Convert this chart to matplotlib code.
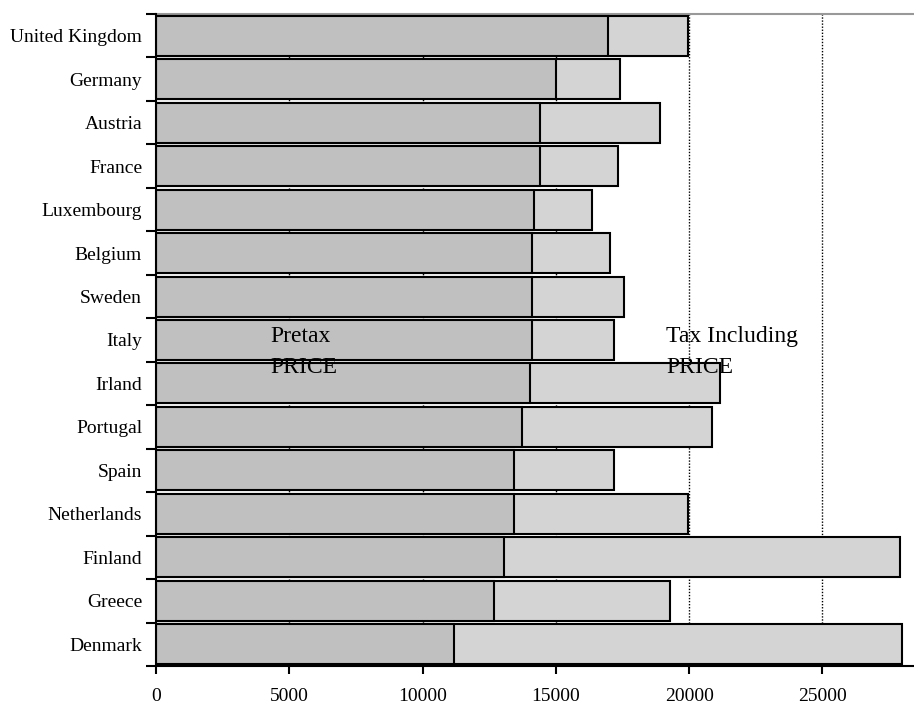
import matplotlib
matplotlib.use("Agg")
import matplotlib.pyplot as plt
import numpy as np

countries = ["United Kingdom", "Germany", "Austria", "France", "Luxembourg",
             "Belgium", "Sweden", "Italy", "Irland", "Portugal", "Spain",
             "Netherlands", "Finland", "Greece", "Denmark"]
pretax = [16950, 15010, 14410, 14410, 14175, 14115, 14115, 14115, 14040,
          13725, 13440, 13440, 13050, 12675, 11185]
tax_incl = [19950, 17410, 18910, 17340, 16350, 17040, 17570, 17190, 21150,
            20860, 17190, 19965, 27925, 19290, 27990]
xticks = [0, 5000, 10000, 15000, 20000, 25000]

plt.rcParams['font.family'] = ['Liberation Serif', 'DejaVu Serif']

fig = plt.figure(figsize=(9.14, 7.06), dpi=100)
ax = fig.add_axes([156/914, 1-666/706, (913-156)/914, (666-14)/706])

y = np.arange(len(countries))
h = 0.92
ax.barh(y, tax_incl, height=h, color="#d4d4d4", edgecolor="black", linewidth=1.5, zorder=3)
ax.barh(y, pretax, height=h, color="#c0c0c0", edgecolor="black", linewidth=1.5, zorder=4)

for xv in xticks[1:]:
    ax.axvline(xv, color="black", linestyle=(0, (1, 1.2)), linewidth=1.0, zorder=1)

ax.set_ylim(len(countries) - 0.5, -0.5)
ax.set_xlim(0, 28400)

ax.set_yticks(y)
ax.set_yticklabels(countries, fontsize=14)
ax.set_yticks(np.arange(-0.5, len(countries), 1.0), minor=True)
ax.tick_params(axis="y", which="major", length=0, pad=10)
ax.tick_params(axis="y", which="minor", length=7, width=1.5, direction="out")

ax.set_xticks(xticks)
ax.set_xticklabels([str(v) for v in xticks], fontsize=14)
ax.tick_params(axis="x", which="major", length=6, width=1.5, direction="out", pad=10)

ax.spines["right"].set_visible(False)
ax.spines["top"].set_color("#999999")
ax.spines["top"].set_linewidth(1.5)
ax.spines["left"].set_linewidth(1.5)
ax.spines["bottom"].set_linewidth(1.5)
ax.spines["left"].set_zorder(5)
ax.spines["bottom"].set_zorder(5)

ax.text(4300, 7.28, "Pretax\nPRICE", fontsize=17, ha="left", va="center",
        linespacing=1.6, zorder=6)
ax.text(19150, 7.28, "Tax Including\nPRICE", fontsize=17, ha="left", va="center",
        linespacing=1.6, zorder=6)

fig.savefig("out.png", dpi=100)
